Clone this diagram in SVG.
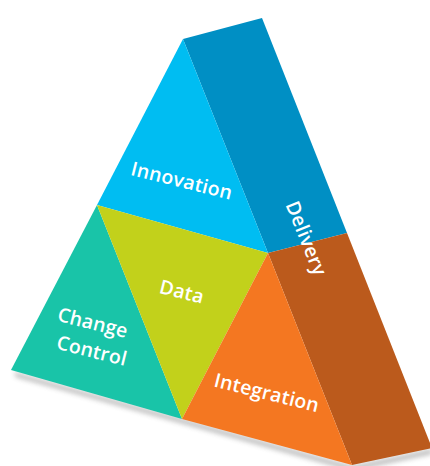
<svg xmlns="http://www.w3.org/2000/svg" width="430" height="466" viewBox="0 0 430 466">
  <style>
    .lbl { font-family: "Open Sans", "Liberation Sans", sans-serif; font-size: 19.5px; font-weight: 600; fill: #ffffff; text-anchor: middle; dominant-baseline: central; letter-spacing: 0.2px; }
  </style>
  <defs>
    <filter id="soft" x="-20%" y="-50%" width="140%" height="200%">
      <feGaussianBlur stdDeviation="2.5"/>
    </filter>
  </defs>
  <rect width="430" height="466" fill="#ffffff"/>

  <!-- drop shadow under the base -->
  <polygon points="14,372 352,466 432,449 432,454 352,471 16,377" fill="#666" opacity="0.45" filter="url(#soft)"/>

  <!-- side faces -->
  <g id="side-delivery">
    <polygon points="183,39 262,18 347,233 268,253" fill="#008fc4"/>
  </g>
  <g id="side-base">
    <polygon points="268,253 347,233 432,448 352,465" fill="#bb5a1c"/>
  </g>

  <!-- front faces -->
  <g id="innovation">
    <polygon points="183,39 268,253 97,205" fill="#00bdf2"/>
    <text class="lbl" transform="translate(182,180) rotate(14)">Innovation</text>
  </g>
  <g id="change-control">
    <polygon points="97,205 182,419 11,370" fill="#19c4a8"/>
    <text class="lbl" transform="translate(93,322) rotate(14)">Change</text>
    <text class="lbl" transform="translate(92,350) rotate(14)">Control</text>
  </g>
  <g id="data">
    <polygon points="97,205 268,253 182,419" fill="#c2d11b"/>
    <text class="lbl" transform="translate(182,291) rotate(14)">Data</text>
  </g>
  <g id="integration">
    <polygon points="268,253 352,465 182,419" fill="#f47721"/>
    <text class="lbl" transform="translate(267,392) rotate(14)">Integration</text>
  </g>
  <g id="delivery">
    <text class="lbl" transform="translate(307,238) rotate(68)">Delivery</text>
  </g>

  <g id="connectors"/>
</svg>
